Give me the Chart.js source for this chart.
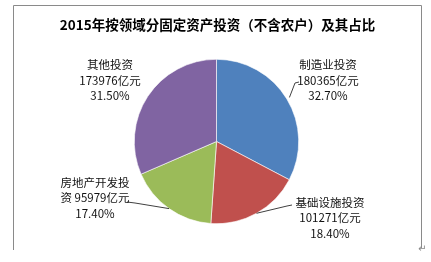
<!DOCTYPE html>
<html>
<head>
<meta charset="utf-8">
<script src="https://cdn.jsdelivr.net/npm/chart.js@4/dist/chart.umd.min.js"></script>
<style>
  html, body { margin: 0; padding: 0; background: #fff; }
  #wrap { width: 431px; height: 262px; position: relative; }
</style>
</head>
<body>
<div id="wrap"><canvas id="c" width="431" height="262"></canvas></div>
<script>
// 2015 fixed-asset investment by sector (excluding rural households)
const chartTitle = '2015年按领域分固定资产投资（不含农户）及其占比';
const categories = ['制造业投资', '基础设施投资', '房地产开发投资', '其他投资'];
const amounts = [180365, 101271, 95979, 173976];   // 亿元
const shares = [32.70, 18.40, 17.40, 31.50];        // %
const colors = ['#4F81BD', '#C0504D', '#9BBB59', '#8064A2'];

// label placement, relative to the pie centre
const labelOffsets = [[111.5, -61], [113.5, 76.5], [-121.5, 56.5], [-106.5, -61]];
// leader lines: label-side points, relative to the pie centre (null = none)
const leaderPoints = [
  [[78.5, -58.5], [82.5, -59.5]],
  [[70.5, 64.5], [75.5, 63.5]],
  [[-81.5, 61.5], [-89.5, 60.5]],
  null
];

const LABEL_FONT = '11.5px "Noto Sans CJK SC", "Noto Sans", sans-serif';
const LABEL_WRAP = 73;
const LINE_H = 15.5;

function wrapText(ctx, text, maxW) {
  const tokens = text.match(/[A-Za-z0-9.%]+|\s|./g);
  const lines = [];
  let cur = '';
  for (const t of tokens) {
    const test = cur + t;
    if (cur && ctx.measureText(test.trimEnd()).width > maxW) {
      lines.push(cur.trim());
      cur = t.trim() ? t : '';
    } else {
      cur = test;
    }
  }
  if (cur.trim()) lines.push(cur.trim());
  return lines;
}

const decorPlugin = {
  id: 'decor',
  beforeDraw(chart) {
    const ctx = chart.ctx;
    ctx.save();
    // frame around the chart
    ctx.strokeStyle = '#8a8a8a';
    ctx.lineWidth = 1;
    ctx.beginPath();
    ctx.moveTo(13.5, 250);
    ctx.lineTo(13.5, 5.5);
    ctx.lineTo(421.5, 5.5);
    ctx.lineTo(421.5, 248);
    ctx.stroke();
    // title
    ctx.fillStyle = '#000';
    ctx.font = 'bold 13.5px "Noto Sans CJK SC", "Noto Sans", sans-serif';
    ctx.textAlign = 'center';
    ctx.textBaseline = 'middle';
    ctx.fillText(chartTitle, 217.5, 25);
    // paragraph mark
    ctx.fillStyle = '#8a8a8a';
    ctx.font = '10px "DejaVu Sans", sans-serif';
    ctx.textAlign = 'left';
    ctx.fillText('↵', 418, 249);
    ctx.restore();
  },
  afterDatasetsDraw(chart) {
    const ctx = chart.ctx;
    const meta = chart.getDatasetMeta(0);
    ctx.save();
    meta.data.forEach((arc, i) => {
      const cx = arc.x, cy = arc.y;
      // leader line from slice edge at its mid angle
      const pts = leaderPoints[i];
      if (pts) {
        const mid = (arc.startAngle + arc.endAngle) / 2;
        const r = arc.outerRadius + (i === 0 ? 3 : 0);
        ctx.strokeStyle = '#404040';
        ctx.lineWidth = 1;
        ctx.beginPath();
        ctx.moveTo(cx + Math.cos(mid) * r, cy + Math.sin(mid) * r);
        pts.forEach(p => ctx.lineTo(cx + p[0], cy + p[1]));
        ctx.stroke();
      }
      // data label: name + amount (wrapped), then share
      ctx.font = LABEL_FONT;
      ctx.fillStyle = '#111';
      ctx.textAlign = 'center';
      ctx.textBaseline = 'middle';
      const lines = wrapText(ctx, categories[i] + ' ' + amounts[i] + '亿元', LABEL_WRAP);
      lines.push(shares[i].toFixed(2) + '%');
      const lx = cx + labelOffsets[i][0];
      const ly = cy + labelOffsets[i][1];
      const top = ly - (lines.length - 1) * LINE_H / 2;
      lines.forEach((s, k) => ctx.fillText(s, lx, top + k * LINE_H));
    });
    ctx.restore();
  }
};

new Chart(document.getElementById('c'), {
  type: 'pie',
  data: {
    labels: categories,
    datasets: [{
      data: shares,
      backgroundColor: colors,
      borderColor: '#ffffff',
      borderWidth: 0.6
    }]
  },
  options: {
    responsive: false,
    animation: false,
    devicePixelRatio: 1,
    layout: { padding: { left: 134, right: 132, top: 59, bottom: 38 } },
    plugins: {
      legend: { display: false },
      title: { display: false },
      tooltip: { enabled: false }
    }
  },
  plugins: [decorPlugin]
});
</script>
</body>
</html>
